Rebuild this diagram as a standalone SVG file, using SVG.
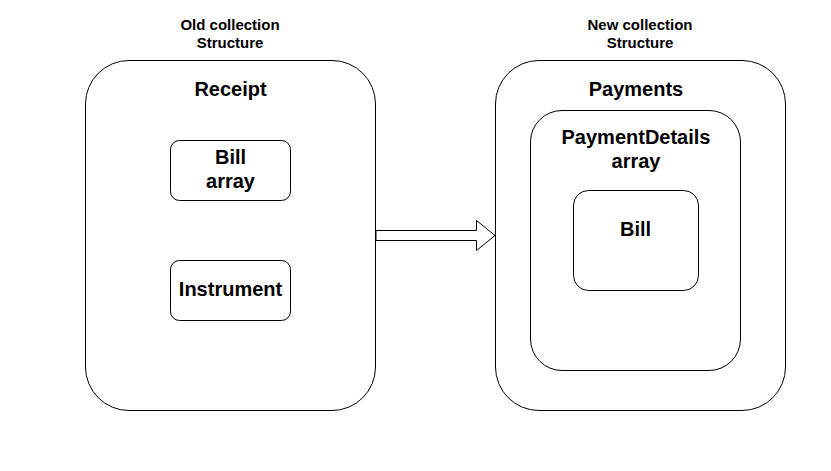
<svg xmlns="http://www.w3.org/2000/svg" width="831" height="471" viewBox="0 0 831 471">
<style>
.box{fill:#fff;stroke:#000;stroke-width:1}
text{font-family:"Liberation Sans",Arial,sans-serif;font-weight:bold;fill:#000;text-anchor:middle}
.sm{font-size:15px}
.lg{font-size:20px}
</style>
<rect width="831" height="471" fill="#fff"/>
<g id="label-old"><text class="sm" x="230" y="30">Old collection</text><text class="sm" x="230" y="48">Structure</text></g>
<g id="label-new"><text class="sm" x="640" y="30">New collection</text><text class="sm" x="640" y="48">Structure</text></g>
<g id="receipt"><rect class="box" x="85.5" y="60.5" width="290" height="350" rx="43.5"/><text class="lg" x="230.5" y="96">Receipt</text></g>
<g id="bill-array"><rect class="box" x="170.5" y="140.5" width="120" height="60" rx="9"/><text class="lg" x="230.5" y="164">Bill</text><text class="lg" x="230.5" y="188">array</text></g>
<g id="instrument"><rect class="box" x="170.5" y="260.5" width="120" height="60" rx="9"/><text class="lg" x="230.5" y="296">Instrument</text></g>
<g id="payments"><rect class="box" x="495.5" y="60.5" width="290" height="350" rx="43.5"/><text class="lg" x="636" y="96">Payments</text></g>
<g id="payment-details"><rect class="box" x="530.5" y="110.5" width="210" height="260" rx="31.5"/><text class="lg" x="636" y="144">PaymentDetails</text><text class="lg" x="636" y="168">array</text></g>
<g id="bill"><rect class="box" x="573.5" y="190.5" width="125" height="100" rx="15"/><text class="lg" x="635.5" y="236">Bill</text></g>
<g id="connectors"><path class="box" d="M376 230.5 H476.5 V220.5 L495 235.5 L476.5 250.5 V240.5 H376 Z"/></g>
</svg>
